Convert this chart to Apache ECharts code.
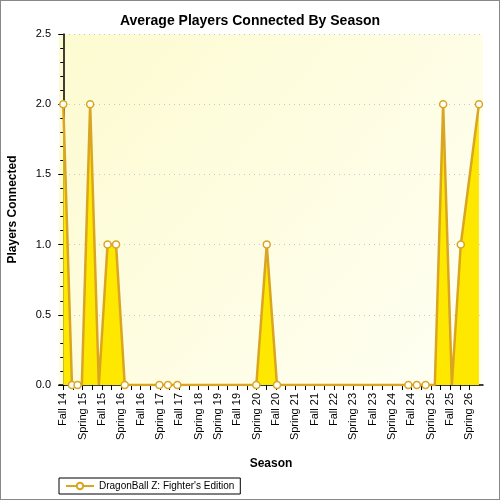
<!DOCTYPE html>
<html><head><meta charset="utf-8">
<script src="https://cdn.jsdelivr.net/npm/echarts@6/dist/echarts.min.js"></script>
<style>html,body{margin:0;padding:0;background:#fff}#c{width:498px;height:498px;border:1px solid #888}</style>
</head><body><div id="c"></div>
<script>
const seasonLabels = ["Fall 14","Spring 15","Fall 15","Spring 16","Fall 16","Spring 17","Fall 17","Spring 18","Spring 19","Fall 19","Spring 20","Fall 20","Spring 21","Fall 21","Fall 22","Spring 23","Fall 23","Spring 24","Fall 24","Spring 25","Fall 25","Spring 26"];
// x position measured in label units, y = players
const seasonPos = [0,0.45,0.74,0.96,1.39,1.84,2.29,2.73,3.18,4.97,5.41,5.9,9.98,10.52,11.05,17.84,18.28,18.73,19.21,19.64,20.09,20.55,21.49];
const players   = [2,0,0,0,2,0,1,1,0,0,0,0,0,1,0,0,0,0,0,2,0,1,2];
const showMark  = [1,1,1,0,1,0,1,1,1,1,1,1,1,1,1,1,1,1,0,1,0,1,1];

const data = seasonPos.map((x,i)=>({value:[x,players[i]],symbolSize:showMark[i]?7:0}));
const ticks = [];
for(let i=0;i<seasonLabels.length;i++){ticks.push(i); if(i<seasonLabels.length-1) ticks.push(i+0.5);}
const chart = echarts.init(document.getElementById('c'));
chart.setOption({
  backgroundColor:'#fff',
  title:{text:'Average Players Connected By Season',left:'center',top:8,textStyle:{fontFamily:'Liberation Sans',fontSize:14,fontWeight:'bold',color:'#000'}},
  grid:{left:58,right:16,top:33,bottom:114,show:true,borderWidth:0,outerBoundsMode:'none',containLabel:false,
    backgroundColor:new echarts.graphic.LinearGradient(0,0,1,1,[{offset:0,color:'#fdfbd0'},{offset:1,color:'#fffff4'}])},
  legend:{left:58,top:477,itemWidth:28,itemHeight:8,padding:[3,6],borderColor:'#000',borderWidth:1,borderRadius:0,
    textStyle:{fontFamily:'Liberation Sans',fontSize:10,color:'#000'}},
  xAxis:{type:'value',min:-0.22,max:21.7,name:'Season',nameLocation:'middle',nameGap:73,
    nameTextStyle:{fontFamily:'Liberation Sans',fontSize:12,fontWeight:'bold',color:'#000'},
    axisLine:{onZero:false,lineStyle:{color:'#000',width:1.5}},
    axisTick:{customValues:ticks,length:5,lineStyle:{color:'#000'}},
    axisLabel:{customValues:seasonLabels.map((_,i)=>i),rotate:90,fontFamily:'Liberation Sans',fontSize:11,color:'#000',
      formatter:v=>seasonLabels[Math.round(v)]},
    splitLine:{show:false}},
  yAxis:{type:'value',min:0,max:2.5,interval:0.5,name:'Players Connected',nameLocation:'middle',nameGap:40,
    nameTextStyle:{fontFamily:'Liberation Sans',fontSize:12,fontWeight:'bold',color:'#000'},
    axisLine:{show:true,lineStyle:{color:'#000',width:1.5}},
    axisTick:{show:true,length:5,lineStyle:{color:'#000'}},
    minorTick:{show:true,splitNumber:5,length:3,lineStyle:{color:'#000'}},
    axisLabel:{fontFamily:'Liberation Sans',fontSize:11,color:'#000',formatter:v=>v.toFixed(1)},
    splitLine:{lineStyle:{color:'#c8c8c8',type:[1,4]}}},
  series:[{name:"DragonBall Z: Fighter's Edition",type:'line',data:data,symbol:'circle',
    itemStyle:{color:'#fff',borderColor:'#DAA520',borderWidth:1.5},
    lineStyle:{color:'#DAA520',width:2.5},
    areaStyle:{color:'#FFE800',opacity:1}}]
});
</script></body></html>
